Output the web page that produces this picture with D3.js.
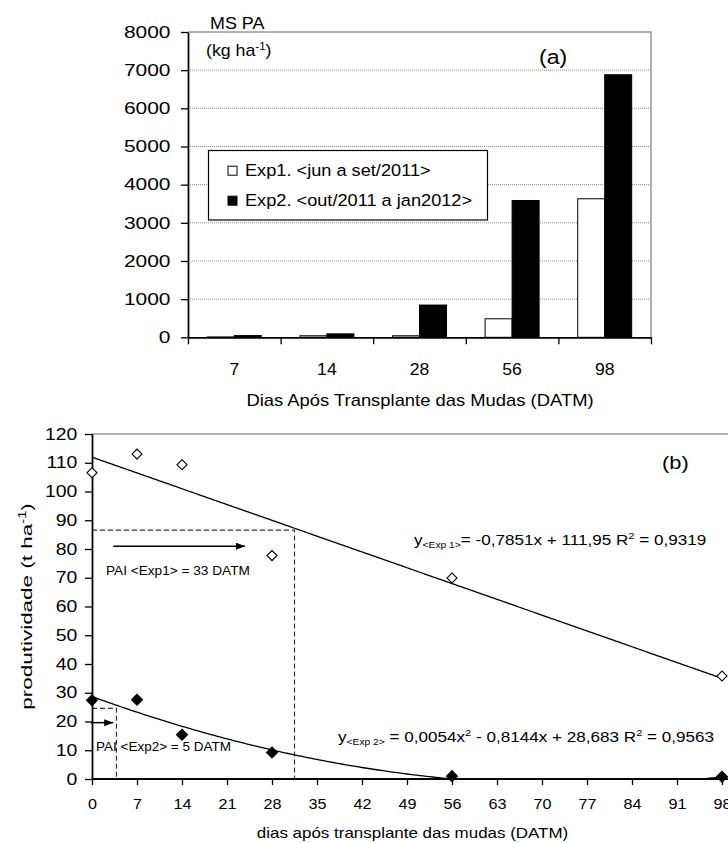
<!DOCTYPE html>
<html><head><meta charset="utf-8">
<script src="https://cdn.jsdelivr.net/npm/d3@7"></script>
<style>
body{margin:0;background:#fff}
svg{display:block}
text{font-family:"Liberation Sans",Arial,sans-serif;fill:#000}
</style>
</head><body>
<svg id="c" width="728" height="843"></svg>
<script>
// ---------- data: chart (a) ----------
const days = ["7", "14", "28", "56", "98"];
const exp1Biomass = [10, 40, 40, 485, 3630];
const exp2Biomass = [45, 90, 845, 3585, 6880];
const biomassTicks = [0, 1000, 2000, 3000, 4000, 5000, 6000, 7000, 8000];
const seriesNames = ["Exp1. <jun a set/2011>", "Exp2. <out/2011 a jan2012>"];

// ---------- data: chart (b) ----------
const obsDays = [0, 7, 14, 28, 56, 98];
const exp1Yield = [106.5, 113, 109.3, 77.7, 69.9, 35.8];
const exp2Yield = [27.4, 27.6, 15.4, 9.2, 1.0, 0.8];
const exp1Coef = [111.95, -0.7851];          // linear trend shown on chart
const exp2Coef = [28.683, -0.8144, 0.0054];  // quadratic trend shown on chart
const dayTicks = [0, 7, 14, 21, 28, 35, 42, 49, 56, 63, 70, 77, 84, 91, 98];
const yieldTicks = [0, 10, 20, 30, 40, 50, 60, 70, 80, 90, 100, 110, 120];
const paiX = [31.5, 3.8];
const paiY = [86.6, 24.6];
const arrowFrom = [3.3, -0.2];
const arrowTo = [23.8, 3.3];
const arrowY = [81, 19.6];

const svg = d3.select("#c");
const FONT = '"Liberation Sans",Arial,sans-serif';

// text helper: parts = [{t, sup, sub, size}]
function label(x, y, size, sx, anchor, parts, rot) {
  const g = svg.append("g")
    .attr("transform", `translate(${x},${y})` + (rot ? ` rotate(${rot})` : "") + ` scale(${sx},1)`);
  const t = g.append("text").attr("font-size", size).attr("text-anchor", anchor || "start");
  let shift = 0;
  parts.forEach(p => {
    const ts = t.append("tspan").text(p.t);
    let target = 0;
    if (p.sup) { ts.attr("font-size", p.size || size * 0.65); target = -size * 0.4; }
    if (p.sub) { ts.attr("font-size", p.size || size * 0.6); target = size * 0.2; }
    ts.attr("dy", target - shift);
    shift = target;
  });
  return t;
}

// ================= Chart (a) =================
const aL = 188, aR = 651, aT = 32, aB = 337.3;
const yA = d3.scaleLinear().domain([0, 8000]).range([aB, aT]);
const xA = d3.scaleBand().domain(days).range([aL, aR]).paddingInner(0.417).paddingOuter(0.2085);
const xSub = d3.scaleBand().domain([0, 1]).range([0, xA.bandwidth()]);

// gridlines
svg.append("g").selectAll("line").data(biomassTicks.filter(v => v > 0 && v < 8000)).join("line")
  .attr("x1", aL).attr("x2", aR).attr("y1", d => yA(d)).attr("y2", d => yA(d))
  .attr("stroke", "#8c8c8c").attr("stroke-width", 1).attr("stroke-dasharray", "1,1");
// top & right border
svg.append("path").attr("d", `M${aL},${yA(8000)}H${aR}V${aB}`)
  .attr("fill", "none").attr("stroke", "#999").attr("stroke-width", 1.5);

// bars
const seriesA = [exp1Biomass, exp2Biomass];
seriesA.forEach((vals, si) => {
  svg.append("g").selectAll("rect").data(vals).join("rect")
    .attr("x", (d, i) => xA(days[i]) + xSub(si))
    .attr("width", xSub.bandwidth())
    .attr("y", d => yA(d))
    .attr("height", d => yA(0) - yA(d))
    .attr("fill", si === 0 ? "#fff" : "#000")
    .attr("stroke", "#000").attr("stroke-width", 1);
});

// y axis
const axA = svg.append("g").attr("transform", `translate(${aL},0)`)
  .call(d3.axisLeft(yA).tickValues(biomassTicks).tickSize(7).tickSizeOuter(0).tickFormat(d3.format("d")));
axA.select(".domain").attr("stroke-width", 1.8);
axA.selectAll(".tick line").attr("stroke-width", 1.3);
axA.selectAll("text").attr("font-size", 16.5).attr("font-family", FONT)
  .attr("x", -17.5 / 1.27).attr("transform", "scale(1.27,1)");

// x axis: boundary ticks
const xBound = d3.scaleLinear().domain([0, days.length]).range([aL, aR]);
const bx = svg.append("g").attr("transform", `translate(0,${aB})`)
  .call(d3.axisBottom(xBound).tickValues(d3.range(days.length + 1)).tickSize(7).tickSizeOuter(0).tickFormat(""));
bx.select(".domain").attr("stroke-width", 1.8);
bx.selectAll(".tick line").attr("stroke-width", 1.3);
const lx = svg.append("g").attr("transform", `translate(0,${aB})`)
  .call(d3.axisBottom(xA).tickSize(0).tickPadding(26));
lx.select(".domain").remove();
lx.selectAll("text").attr("font-size", 16.3).attr("font-family", FONT)
  .attr("transform", "scale(1.08,1)");

label(420, 406, 16, 1.15, "middle", [{t: "Dias Após Transplante das Mudas (DATM)"}]);
label(210, 29.3, 16, 1.12, "start", [{t: "MS PA"}]);
label(206, 56, 16, 1.11, "start", [{t: "(kg ha"}, {t: "-1", sup: true}, {t: ")"}]);
label(539, 64, 21, 1.1, "start", [{t: "(a)"}]);

// legend
svg.append("rect").attr("x", 208.5).attr("y", 150.5).attr("width", 279).attr("height", 69.5)
  .attr("fill", "#fff").attr("stroke", "#000").attr("stroke-width", 1.2);
seriesNames.forEach((name, i) => {
  const cy = 170.7 + i * 30;
  svg.append("rect").attr("x", 228).attr("y", cy - 4.5).attr("width", 9).attr("height", 9)
    .attr("fill", i === 0 ? "#fff" : "#000").attr("stroke", "#000").attr("stroke-width", 1);
  label(245, 175.7 + i * 30, 17, 1.07, "start", [{t: name}]);
});

// ================= Chart (b) =================
const bL = 92, bB = 779, bT = 434;
const xB = d3.scaleLinear().domain([0, 98]).range([bL, 722]);
const yB = d3.scaleLinear().domain([0, 120]).range([bB, bT]);

// top border
svg.append("line").attr("x1", bL).attr("x2", 728).attr("y1", yB(120)).attr("y2", yB(120))
  .attr("stroke", "#999").attr("stroke-width", 1.5);

// dashed PAI guides
paiX.forEach((px, i) => {
  svg.append("path")
    .attr("d", `M${xB(0)},${yB(paiY[i])}H${xB(px)}V${yB(0)}`)
    .attr("fill", "none").attr("stroke", "#333").attr("stroke-width", 1.2).attr("stroke-dasharray", "5,3");
});

// arrows
const defs = svg.append("defs");
defs.append("marker").attr("id", "ah").attr("markerUnits", "userSpaceOnUse")
  .attr("markerWidth", 10).attr("markerHeight", 8).attr("refX", 9).attr("refY", 3.5).attr("orient", "auto")
  .append("path").attr("d", "M0,0L9,3.5L0,7Z").attr("fill", "#000");
arrowFrom.forEach((a, i) => {
  svg.append("line").attr("x1", xB(a)).attr("x2", xB(arrowTo[i]))
    .attr("y1", yB(arrowY[i])).attr("y2", yB(arrowY[i]))
    .attr("stroke", "#000").attr("stroke-width", 1.5).attr("marker-end", "url(#ah)");
});

// trend lines
const trendX = d3.range(0, 98.01, 0.5);
const lineB = d3.line().x(d => xB(d[0])).y(d => yB(d[1]));
svg.append("path").datum(trendX.map(x => [x, exp1Coef[0] + exp1Coef[1] * x]))
  .attr("d", lineB).attr("fill", "none").attr("stroke", "#000").attr("stroke-width", 1.3);
svg.append("path").datum(trendX.map(x => [x, Math.max(0, exp2Coef[0] + exp2Coef[1] * x + exp2Coef[2] * x * x)]))
  .attr("d", lineB).attr("fill", "none").attr("stroke", "#000").attr("stroke-width", 1.3);

// axes
const axBy = svg.append("g").attr("transform", `translate(${bL},0)`)
  .call(d3.axisLeft(yB).tickValues(yieldTicks).tickSize(7).tickSizeOuter(0));
axBy.select(".domain").attr("stroke-width", 1.8);
axBy.selectAll(".tick line").attr("stroke-width", 1.3);
axBy.selectAll("text").attr("font-size", 16.3).attr("font-family", FONT)
  .attr("x", -14.7 / 1.19).attr("transform", "scale(1.19,1)");

const axBx = svg.append("g").attr("transform", `translate(0,${bB})`)
  .call(d3.axisBottom(xB).tickValues(dayTicks).tickSize(6).tickSizeOuter(0).tickPadding(13));
axBx.select(".domain").remove();
axBx.selectAll(".tick line").attr("stroke-width", 1.3);
axBx.selectAll("text").attr("font-size", 15.4).attr("font-family", FONT)
  .attr("transform", "scale(1.05,1)");
svg.append("line").attr("x1", bL).attr("x2", 728).attr("y1", bB).attr("y2", bB)
  .attr("stroke", "#000").attr("stroke-width", 1.8);

// points
const sym1 = d3.symbol().type(d3.symbolSquare).size(50);
const sym2 = d3.symbol().type(d3.symbolSquare).size(62);
svg.append("g").selectAll("path").data(exp1Yield).join("path")
  .attr("d", sym1)
  .attr("transform", (d, i) => `translate(${xB(obsDays[i])},${yB(d)}) rotate(45)`)
  .attr("fill", "#fff").attr("stroke", "#000").attr("stroke-width", 1.1);
svg.append("g").selectAll("path").data(exp2Yield).join("path")
  .attr("d", sym2)
  .attr("transform", (d, i) => `translate(${xB(obsDays[i])},${yB(d)}) rotate(45)`)
  .attr("fill", "#000").attr("stroke", "#000").attr("stroke-width", 1);

// texts
label(414, 545, 15, 1.14, "start", [{t: "y"}, {t: "<Exp 1>", sub: true, size: 9}, {t: "= -0,7851x + 111,95 R"}, {t: "2", sup: true}, {t: " = 0,9319"}]);
label(338, 741.7, 15, 1.14, "start", [{t: "y"}, {t: "<Exp 2>", sub: true, size: 9}, {t: " = 0,0054x"}, {t: "2", sup: true}, {t: " - 0,8144x + 28,683 R"}, {t: "2", sup: true}, {t: " = 0,9563"}]);
label(106, 575, 13, 1.05, "start", [{t: "PAI <Exp1> = 33 DATM"}]);
label(96, 750.7, 13, 1.04, "start", [{t: "PAI <Exp2> = 5 DATM"}]);
label(662, 469, 19, 1.15, "start", [{t: "(b)"}]);
label(412.5, 838, 15, 1.13, "middle", [{t: "dias após transplante das mudas (DATM)"}]);
label(32, 606.5, 15.5, 1.45, "middle", [{t: "produtividade (t ha"}, {t: "-1", sup: true}, {t: ")"}], -90);
</script>
</body></html>
